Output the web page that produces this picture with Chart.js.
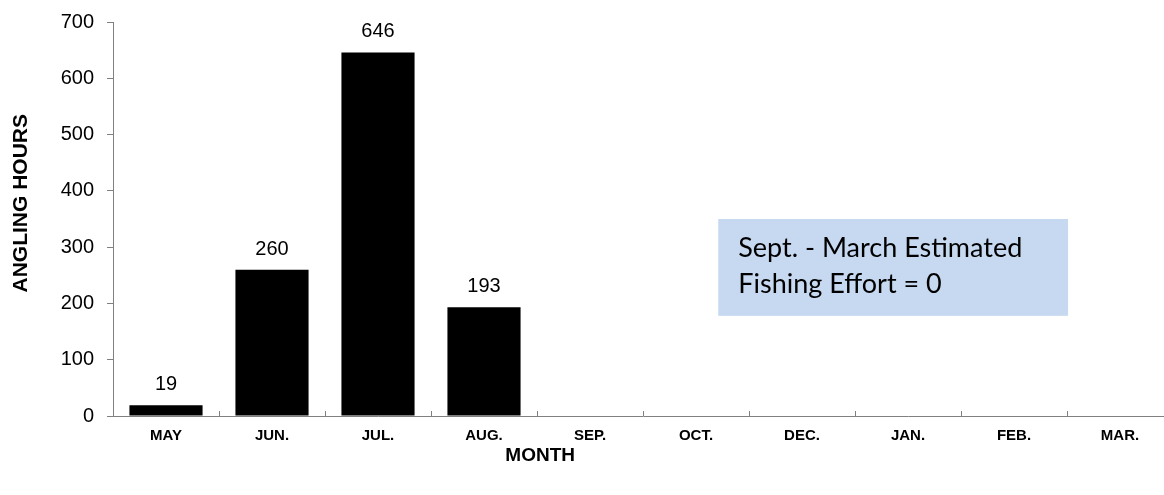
<!DOCTYPE html>
<html lang="en">
<head>
    <meta charset="UTF-8">
    <title>Angling hours by month</title>
    <script src="https://cdn.jsdelivr.net/npm/chart.js"></script>
    <style>
        html, body { margin: 0; padding: 0; background: #fff; overflow: hidden; }
        .wrap { width: 1173px; height: 495px; }
    </style>
</head>
<body>
    <div class="wrap">
        <canvas id="effortChart" width="1173" height="495"></canvas>
    </div>

    <script>
        // data
        var months = ['MAY', 'JUN.', 'JUL.', 'AUG.', 'SEP.', 'OCT.', 'DEC.', 'JAN.', 'FEB.', 'MAR.'];
        var anglingHours = [19, 260, 646, 193, 0, 0, 0, 0, 0, 0];
        var valueLabels = ['19', '260', '646', '193', '', '', '', '', '', ''];
        var noteLines = ['Sept. - March Estimated', 'Fishing Effort = 0'];
        var xTitle = 'MONTH';
        var yTitle = 'ANGLING HOURS';

        var axisColor = '#808080';
        var arial = '"Liberation Sans", Arial, sans-serif';

        // numbers above the bars
        var barLabels = {
            id: 'barLabels',
            afterDatasetsDraw: function (chart) {
                var ctx = chart.ctx;
                var meta = chart.getDatasetMeta(0);
                ctx.save();
                ctx.fillStyle = '#000';
                ctx.font = '20px ' + arial;
                ctx.textAlign = 'center';
                ctx.textBaseline = 'alphabetic';
                meta.data.forEach(function (bar, i) {
                    if (valueLabels[i]) ctx.fillText(valueLabels[i], bar.x, bar.y - 15);
                });
                ctx.restore();
            }
        };

        // small tick marks between categories, pointing up
        var catTicks = {
            id: 'catTicks',
            afterDraw: function (chart) {
                var ctx = chart.ctx;
                var x = chart.scales.x;
                var bottom = chart.chartArea.bottom;
                var step = x.getPixelForValue(1) - x.getPixelForValue(0);
                ctx.save();
                ctx.strokeStyle = axisColor;
                ctx.lineWidth = 1;
                for (var i = 0; i < months.length; i++) {
                    var px = Math.round(x.getPixelForValue(i) + step / 2) + 0.5;
                    ctx.beginPath();
                    ctx.moveTo(px, bottom);
                    ctx.lineTo(px, bottom - 5);
                    ctx.stroke();
                }
                ctx.restore();
            }
        };

        // axis titles (the original sits them off-centre)
        var axisTitles = {
            id: 'axisTitles',
            afterDraw: function (chart) {
                var ctx = chart.ctx;
                var x = chart.scales.x;
                var y = chart.scales.y;
                ctx.save();
                ctx.fillStyle = '#000';
                ctx.textAlign = 'center';
                ctx.textBaseline = 'middle';
                ctx.font = 'bold 19px ' + arial;
                ctx.fillText(xTitle, x.getPixelForValue(3.53), 456);
                ctx.translate(21, y.getPixelForValue(378));
                ctx.rotate(-Math.PI / 2);
                ctx.font = 'bold 21px ' + arial;
                ctx.fillText(yTitle, 0, 0);
                ctx.restore();
            }
        };

        // the blue note box
        var noteBox = {
            id: 'noteBox',
            afterDraw: function (chart) {
                var ctx = chart.ctx;
                var x = chart.scales.x;
                var y = chart.scales.y;
                var left = x.getPixelForValue(5.21);
                var right = x.getPixelForValue(8.51);
                var top = y.getPixelForValue(350);
                var bot = y.getPixelForValue(178);
                ctx.save();
                ctx.fillStyle = '#c6d9f1';
                ctx.fillRect(left, top, right - left, bot - top);
                ctx.fillStyle = '#000';
                ctx.font = '27px Lato, "Open Sans", sans-serif';
                ctx.textAlign = 'left';
                ctx.textBaseline = 'alphabetic';
                ctx.fillText(noteLines[0], left + 20, top + 38);
                ctx.fillText(noteLines[1], left + 20, top + 74);
                ctx.restore();
            }
        };

        var config = {
            type: 'bar',
            data: {
                labels: months,
                datasets: [{
                    data: anglingHours,
                    backgroundColor: '#000',
                    borderWidth: 0,
                    categoryPercentage: 1.0,
                    barPercentage: 0.69
                }]
            },
            options: {
                responsive: false,
                animation: false,
                layout: { padding: { top: 22, right: 0, left: 0, bottom: 0 } },
                plugins: {
                    legend: { display: false },
                    tooltip: { enabled: false }
                },
                scales: {
                    x: {
                        grid: { display: false, drawTicks: false },
                        border: { color: axisColor, width: 1 },
                        ticks: {
                            color: '#000',
                            padding: 11,
                            maxRotation: 0,
                            autoSkip: false,
                            font: { family: arial, size: 15, weight: 'bold' }
                        },
                        afterFit: function (s) { s.height = 79; s.paddingLeft = 0; s.paddingRight = 0; }
                    },
                    y: {
                        min: 0,
                        max: 700,
                        grid: { drawOnChartArea: false, tickLength: 6, color: axisColor },
                        border: { color: axisColor, width: 1 },
                        ticks: {
                            stepSize: 100,
                            color: '#000',
                            padding: 13,
                            font: { family: arial, size: 20 }
                        },
                        afterFit: function (s) { s.width = 113; s.paddingTop = 0; s.paddingBottom = 0; }
                    }
                }
            },
            plugins: [barLabels, catTicks, axisTitles, noteBox]
        };

        var ctx = document.getElementById('effortChart').getContext('2d');
        var effortChart = new Chart(ctx, config);
    </script>
</body>
</html>
